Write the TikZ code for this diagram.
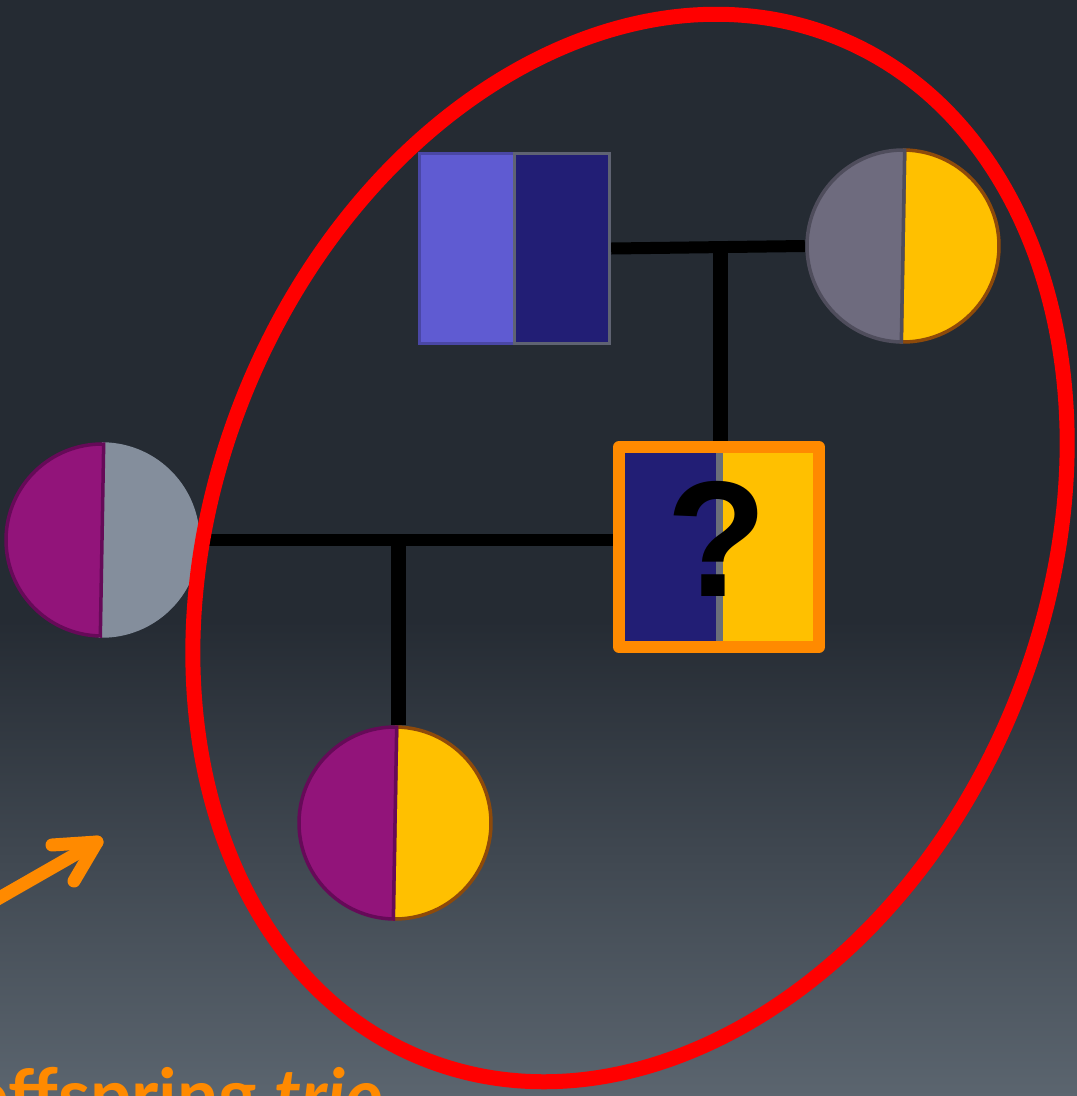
\documentclass[tikz,border=0pt]{standalone}
\usepackage{fontspec}
\setmainfont{Liberation Sans}
\newfontfamily\labelfont{Lato}
\definecolor{bgtop}{HTML}{252B33}
\definecolor{bgbot}{HTML}{5B656F}
\definecolor{navy}{HTML}{221E75}
\definecolor{lav}{HTML}{5F5BD2}
\definecolor{lavb}{HTML}{4A47A6}
\definecolor{slate}{HTML}{5F6372}
\definecolor{mgray}{HTML}{6E6B7E}
\definecolor{mgrayb}{HTML}{4F4D5C}
\definecolor{gold}{HTML}{FFC000}
\definecolor{goldb}{HTML}{8E4A0A}
\definecolor{plum}{HTML}{92147A}
\definecolor{plumb}{HTML}{660A58}
\definecolor{sgray}{HTML}{848E9C}
\definecolor{orng}{HTML}{FF8A00}
\definecolor{stripg}{HTML}{6A6F7A}
\tikzset{
  person/.style={circle, minimum size=196, inner sep=0, draw=none},
  boxperson/.style={rectangle, inner sep=0, draw=none},
  hline/.style={black, line width=12},
  vline/.style={black, line width=15},
  halfb/.style={line width=3.5},
  arrowline/.style={orng, line width=13, line cap=round, line join=round},
}
\newcommand\splitdisc[5]{%
  \begin{scope}[shift={(#1.center)}, rotate=-1]
    \filldraw[halfb, fill=#4, draw=#5] (0,96) arc[start angle=90, end angle=-90, radius=96] -- cycle;
    \filldraw[halfb, fill=#2, draw=#3] (0,96) arc[start angle=90, end angle=270, radius=96] -- cycle;
  \end{scope}}
\begin{document}
\begin{tikzpicture}[x=1pt,y=1pt]
\useasboundingbox (0,0) rectangle (1077,-1096);
\clip (0,0) rectangle (1077,-1096);
\fill[bgtop] (0,0) rectangle (1077,-1096);
\shade[top color=bgtop, bottom color=bgbot] (0,-620) rectangle (1077,-1097);

% nodes
\node[person] (spouse) at (102,-540) {};
\node[person] (mother) at (903,-246) {};
\node[person] (child) at (395,-823) {};
\node[boxperson, minimum width=193, minimum height=193] (father) at (514.5,-248.5) {};
\node[boxperson, minimum width=212, minimum height=212] (proband) at (719,-547) {};
\coordinate (m1) at (720,-247);
\coordinate (m2) at (398,-540);

% connectors
\draw[hline] (father.east) -- (mother.west);
\draw[vline] (m1) -- (m1 |- proband.north);
\draw[hline] (spouse.east) -- (spouse.east -| proband.west);
\draw[vline] (m2) -- (m2 |- child.north);

% father
\filldraw[fill=lav, draw=lavb, line width=3] (419.5,-153.5) rectangle (514,-343.5);
\filldraw[fill=navy, draw=slate, line width=3] (514,-153.5) rectangle (609.5,-343.5);

% circles
\splitdisc{mother}{mgray}{mgrayb}{gold}{goldb}
\splitdisc{spouse}{plum}{plumb}{sgray}{sgray}
\splitdisc{child}{plum}{plumb}{gold}{goldb}

% proband
\fill[navy] (625,-452) rectangle (716,-641);
\fill[stripg] (716,-452) rectangle (723,-641);
\fill[gold] (723,-452) rectangle (813,-642);
\draw[orng, line width=12, line join=round] (619,-447) rectangle (819,-647);
\node[inner sep=0, font=\bfseries\fontsize{165}{165}\selectfont] (q) at (717,-539) {?};

% red ellipse
\draw[red, line width=15, rotate around={67.75:(630,-548)}] (630,-548) ellipse [x radius=551, y radius=415];

% arrow
\coordinate (a0) at (-20,-909);
\coordinate (a1) at (97,-842);
\coordinate (b1) at (52,-845);
\coordinate (b2) at (74,-881);
\draw[arrowline] (a0) -- (a1);
\draw[arrowline] (b1) -- (a1) -- (b2);

% label
\node[anchor=base west, inner sep=0, text=orng, font=\labelfont\bfseries\fontsize{73}{73}\selectfont] (lbl) at (-33,-1121) {offspring \textit{trio}};
\end{tikzpicture}
\end{document}
